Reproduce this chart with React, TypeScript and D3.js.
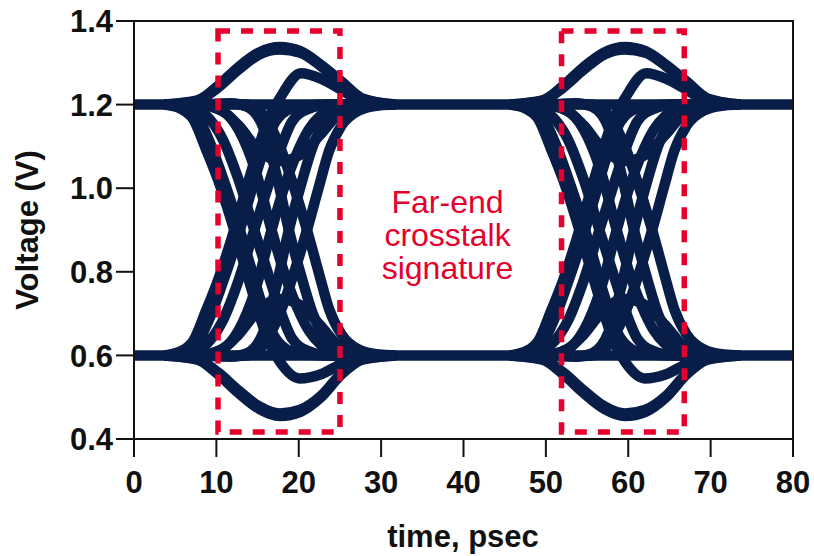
import React from "react";
import * as d3 from "d3";

// ---- axis ticks ----
const xTicks = [0, 10, 20, 30, 40, 50, 60, 70, 80];
const yTicks = [0.4, 0.6, 0.8, 1.0, 1.2, 1.4];

// ---- eye windows (transition centres, psec) ----
const windowCenters = [17.7, 59.6];

// ---- steady levels across the whole record [t, V] ----
const highFlat: [number, number][] = [[0, 1.2], [80, 1.2]];
const lowFlat: [number, number][] = [[0, 0.6], [80, 0.6]];

// ---- traces inside one transition window, [tau (ps from centre), V] ----
const highBump: [number, number][] = [[-14, 1.2], [-10, 1.21], [-7.5, 1.245], [-5, 1.29], [-2.5, 1.325], [0, 1.338], [2.5, 1.328], [5, 1.295], [7.5, 1.255], [10, 1.215], [14, 1.2]];
const highBump2: [number, number][] = [[-14, 1.2], [-10, 1.209], [-7.5, 1.241], [-5, 1.284], [-2.5, 1.32], [0, 1.332], [2.5, 1.324], [5, 1.292], [7.5, 1.252], [10, 1.213], [14, 1.2]];
const lowDip: [number, number][] = [[-14, 0.6], [-10, 0.59], [-7.5, 0.555], [-5, 0.51], [-2.5, 0.472], [0, 0.455], [2.5, 0.465], [5, 0.5], [7.5, 0.555], [10, 0.59], [14, 0.6]];
const lowDip2: [number, number][] = [[-14, 0.6], [-10, 0.591], [-7.5, 0.559], [-5, 0.516], [-2.5, 0.478], [0, 0.461], [2.5, 0.47], [5, 0.503], [7.5, 0.557], [10, 0.591], [14, 0.6]];
const highDip: [number, number][] = [[-14, 1.2], [-10, 1.2], [-7, 1.185], [-5, 1.15], [-2.5, 1.09], [0, 1.065], [2.5, 1.08], [5, 1.13], [7.3, 1.18], [10, 1.197], [14, 1.2]];
const lowArch: [number, number][] = [[-14, 0.6], [-10, 0.6], [-7, 0.615], [-5, 0.65], [-2.5, 0.71], [0, 0.735], [2.5, 0.72], [5, 0.67], [7.3, 0.62], [10, 0.603], [14, 0.6]];

const riseEarly: [number, number][] = [[-14, 0.6], [-12, 0.61], [-10.5, 0.635], [-9, 0.705], [-7.5, 0.78], [-6, 0.87], [-4.5, 0.97], [-3, 1.07], [-1.5, 1.16], [0, 1.215], [2.6, 1.275], [5, 1.262], [7.5, 1.235], [10, 1.207], [13, 1.2]];
const fallEarly: [number, number][] = [[-14, 1.2], [-12, 1.19], [-10.5, 1.165], [-9, 1.095], [-7.5, 1.02], [-6, 0.93], [-4.5, 0.83], [-3, 0.73], [-1.5, 0.64], [0, 0.585], [2.4, 0.545], [5, 0.555], [7.5, 0.58], [10, 0.597], [13, 0.6]];
const riseEarly2: [number, number][] = [[-14, 0.6], [-11.5, 0.607], [-10, 0.63], [-8.5, 0.69], [-7, 0.77], [-5.3, 0.87], [-3.8, 0.97], [-2.3, 1.07], [-0.8, 1.15], [0.8, 1.185], [3, 1.198], [6, 1.2], [14, 1.2]];
const fallEarly2: [number, number][] = [[-14, 1.2], [-11.5, 1.193], [-10, 1.17], [-8.5, 1.11], [-7, 1.03], [-5.3, 0.93], [-3.8, 0.83], [-2.3, 0.73], [-0.8, 0.65], [0.8, 0.615], [3, 0.602], [6, 0.6], [14, 0.6]];
const riseHalfEarly: [number, number][] = [[-14, 0.6], [-11, 0.605], [-9, 0.625], [-7, 0.68], [-5, 0.78], [-3.1, 0.9], [-1.5, 1.0], [0, 1.09], [1.5, 1.16], [3.5, 1.19], [6, 1.2], [13, 1.2]];
const fallHalfEarly: [number, number][] = [[-14, 1.2], [-11, 1.195], [-9, 1.175], [-7, 1.12], [-5, 1.02], [-3.1, 0.9], [-1.5, 0.8], [0, 0.71], [1.5, 0.64], [3.5, 0.61], [6, 0.6], [13, 0.6]];
const riseMid: [number, number][] = [[-14, 0.6], [-10, 0.6], [-7, 0.615], [-5, 0.66], [-3, 0.755], [-1, 0.9], [0.5, 1.0], [2, 1.08], [3.5, 1.14], [5, 1.175], [7, 1.195], [10, 1.2], [14, 1.2]];
const fallMid: [number, number][] = [[-14, 1.2], [-10, 1.2], [-7, 1.185], [-5, 1.14], [-3, 1.045], [-1, 0.9], [0.5, 0.8], [2, 0.72], [3.5, 0.66], [5, 0.625], [7, 0.605], [10, 0.6], [14, 0.6]];
const riseHalfLate: [number, number][] = [[-14, 0.6], [-9, 0.6], [-6, 0.597], [-4, 0.605], [-2, 0.655], [-0.5, 0.76], [1.1, 0.9], [2.6, 1.01], [4, 1.1], [5.5, 1.16], [7.5, 1.19], [10, 1.2], [14, 1.2]];
const fallHalfLate: [number, number][] = [[-14, 1.2], [-9, 1.2], [-6, 1.203], [-4, 1.195], [-2, 1.145], [-0.5, 1.04], [1.1, 0.9], [2.6, 0.79], [4, 0.7], [5.5, 0.64], [7.5, 0.61], [10, 0.6], [14, 0.6]];
const riseLate: [number, number][] = [[-14, 0.6], [-10, 0.6], [-7, 0.598], [-4, 0.6], [-2, 0.625], [0, 0.7], [1.6, 0.79], [3.3, 0.9], [4.7, 1.0], [6, 1.09], [7.5, 1.15], [9.5, 1.185], [12, 1.198], [14, 1.2]];
const fallLate: [number, number][] = [[-14, 1.2], [-10, 1.2], [-7, 1.202], [-4, 1.2], [-2, 1.175], [0, 1.1], [1.6, 1.01], [3.3, 0.9], [4.7, 0.8], [6, 0.71], [7.5, 0.65], [9.5, 0.615], [12, 0.602], [14, 0.6]];

const windowTraces = [
  highBump, highBump2, lowDip, lowDip2, highDip, lowArch,
  riseEarly, fallEarly, riseEarly2, fallEarly2,
  riseHalfEarly, fallHalfEarly,
  riseMid, fallMid, riseHalfLate, fallHalfLate,
  riseLate, fallLate,
];

// ---- annotation boxes ----
const boxStart = [10.2, 51.9];
const boxEnd = [25.0, 66.8];
const boxLow = 0.417;
const boxHigh = 1.376;

const annotationLines = ["Far-end", "crosstalk", "signature"];

const NAVY = "#081E48";
const RED = "#E6002D";
const FONT = "'Liberation Sans', Arial, Helvetica, sans-serif";

export default function App() {
  const W = 814;
  const H = 556;
  const x = d3.scaleLinear().domain([0, 80]).range([134, 793]);
  const y = d3.scaleLinear().domain([0.4, 1.4]).range([439, 21]);

  const line = d3
    .line<[number, number]>()
    .x((d) => x(d[0]))
    .y((d) => y(d[1]))
    .curve(d3.curveMonotoneX);

  const paths: string[] = [];
  paths.push(line(highFlat) as string);
  paths.push(line(lowFlat) as string);
  windowCenters.forEach((c) => {
    windowTraces.forEach((tr) => {
      paths.push(line(tr.map((p) => [p[0] + c, p[1]] as [number, number])) as string);
    });
  });

  const textX = x(40) - 16;

  return (
    <svg
      width={W}
      height={H}
      style={{ position: "absolute", left: 0, top: 0, background: "#fff" }}
      fontFamily={FONT}
    >
      <defs>
        <clipPath id="plotClip">
          <rect x={134} y={21} width={659} height={418} />
        </clipPath>
      </defs>
      <g clipPath="url(#plotClip)">
        {paths.map((d, i) => (
          <path key={i} d={d} fill="none" stroke={NAVY} strokeWidth={10.5} strokeLinejoin="round" />
        ))}
      </g>

      {boxStart.map((s, i) => (
        <rect
          key={i}
          x={x(s)}
          y={y(boxHigh)}
          width={x(boxEnd[i]) - x(s)}
          height={y(boxLow) - y(boxHigh)}
          fill="none"
          stroke={RED}
          strokeWidth={5.5}
          strokeDasharray="12 11"
        />
      ))}

      <text x={textX} y={213} fill={RED} fontSize={32} textAnchor="middle">
        {annotationLines.map((s, i) => (
          <tspan key={i} x={textX} y={213 + i * 33}>
            {s}
          </tspan>
        ))}
      </text>

      {/* frame */}
      <rect x={134} y={21} width={659} height={418} fill="none" stroke="#111" strokeWidth={2} />

      {/* y ticks */}
      {yTicks.map((v) => (
        <g key={v}>
          <line x1={116} x2={134} y1={y(v)} y2={y(v)} stroke="#111" strokeWidth={2} />
          <text x={113} y={y(v)} dy="0.36em" textAnchor="end" fontSize={31} fontWeight="bold" fill="#111">
            {v.toFixed(1)}
          </text>
        </g>
      ))}

      {/* x ticks */}
      {xTicks.map((t) => (
        <g key={t}>
          <line x1={x(t)} x2={x(t)} y1={439} y2={457} stroke="#111" strokeWidth={2} />
          <text x={x(t)} y={493} textAnchor="middle" fontSize={31} fontWeight="bold" fill="#111">
            {t}
          </text>
        </g>
      ))}

      <text x={463} y={547} textAnchor="middle" fontSize={31} fontWeight="bold" fill="#111">
        time, psec
      </text>
      <text
        transform="translate(38,230) rotate(-90)"
        textAnchor="middle"
        fontSize={31}
        fontWeight="bold"
        fill="#111"
      >
        Voltage (V)
      </text>
    </svg>
  );
}
